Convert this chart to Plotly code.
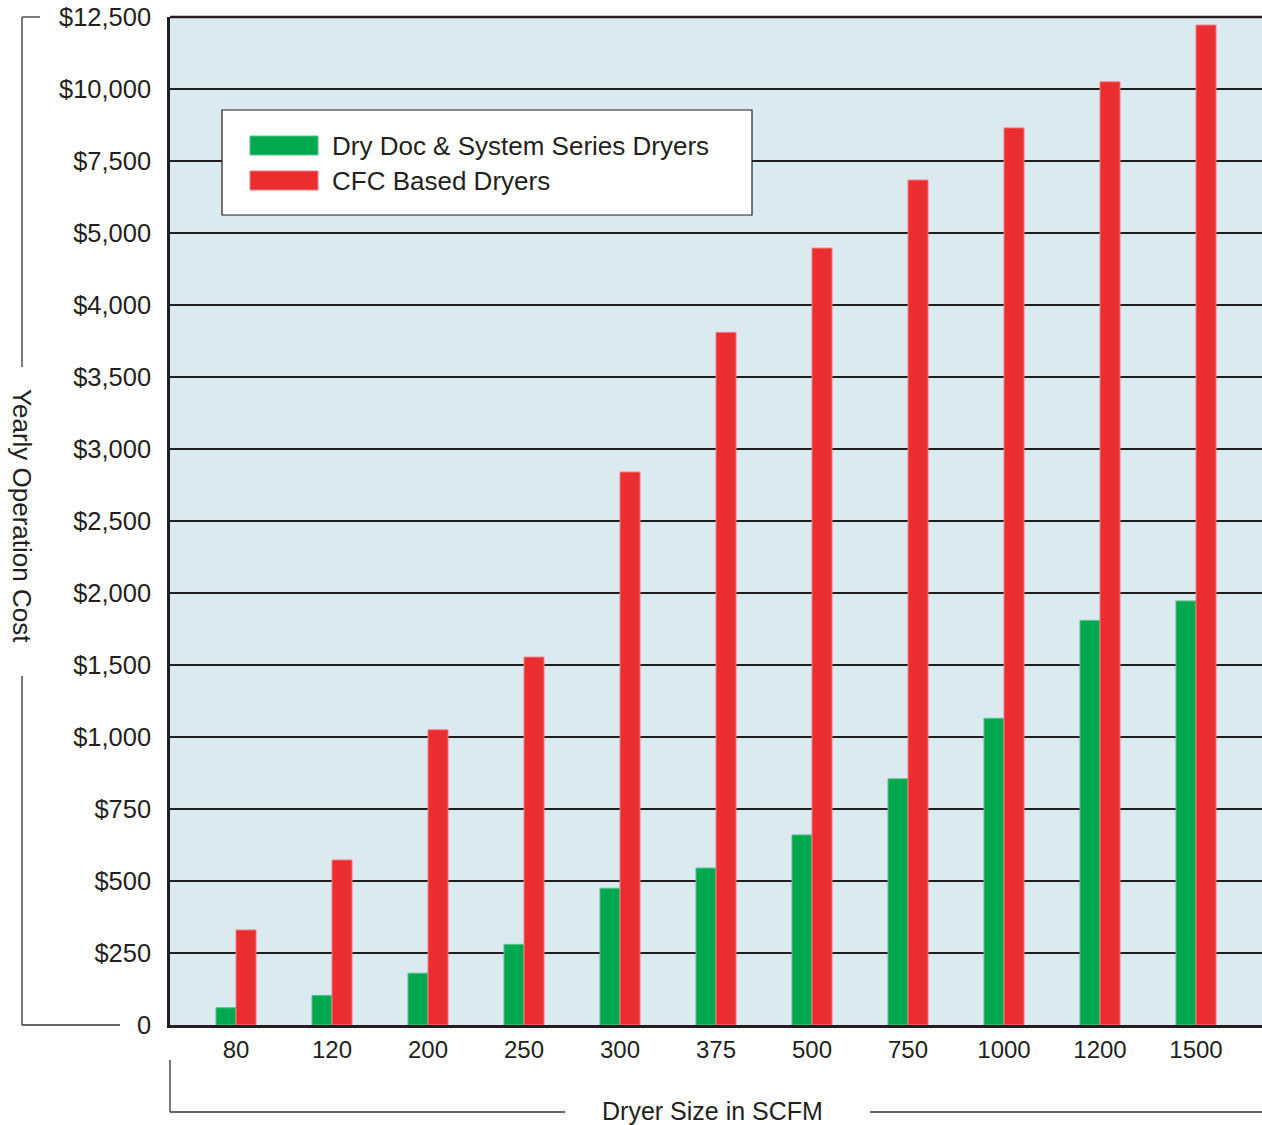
import numpy as np
import plotly.graph_objects as go

categories = ["80", "120", "200", "250", "300", "375", "500", "750", "1000", "1200", "1500"]
dry_doc = [60, 103, 180, 280, 475, 545, 660, 855, 1130, 1810, 1945]
cfc = [330, 573, 1050, 1555, 2840, 3810, 4790, 6840, 8650, 10250, 12220]

tick_values = [0, 250, 500, 750, 1000, 1500, 2000, 2500, 3000, 3500, 4000, 5000, 7500, 10000, 12500]
tick_labels = ["0", "$250", "$500", "$750", "$1,000", "$1,500", "$2,000", "$2,500", "$3,000",
               "$3,500", "$4,000", "$5,000", "$7,500", "$10,000", "$12,500"]
tick_pos = list(range(len(tick_values)))


def to_pos(vals):
    return np.interp(vals, tick_values, tick_pos)


W, H = 1262, 1125
L, R, T, B = 170, 1262, 17, 1025
FONT = "Liberation Sans, Arial, sans-serif"
INK = "#231f20"
GREEN = "#00a94f"
RED = "#ec2d30"


def px_x(px):
    return (px - L) / (R - L)


def px_y(py):
    return (B - py) / (B - T)


fig = go.Figure()
fig.add_trace(go.Bar(x=categories, y=to_pos(dry_doc), name="Dry Doc & System Series Dryers",
                     marker=dict(color=GREEN, line=dict(color="#5cc48a", width=1)),
                     customdata=dry_doc, hovertemplate="%{x}: $%{customdata}<extra></extra>"))
fig.add_trace(go.Bar(x=categories, y=to_pos(cfc), name="CFC Based Dryers",
                     marker=dict(color=RED, line=dict(color="#f07f82", width=1)),
                     customdata=cfc, hovertemplate="%{x}: $%{customdata}<extra></extra>"))

shapes = []
line_style = dict(color="#333333", width=1.3)
for (x0, y0, x1, y1) in [(22, 17, 22, 367), (22, 676, 22, 1025), (22, 17, 40, 17), (22, 1025, 120, 1025),
                         (170, 1060, 170, 1112), (170, 1112, 565, 1112), (870, 1112, 1262, 1112)]:
    shapes.append(dict(type="line", xref="paper", yref="paper",
                       x0=px_x(x0), y0=px_y(y0), x1=px_x(x1), y1=px_y(y1), line=line_style))
# top frame line
shapes.append(dict(type="line", xref="paper", yref="paper", x0=0, x1=1, y0=1, y1=1,
                   line=dict(color=INK, width=2.5)))
shapes.append(dict(type="rect", xref="paper", yref="paper", x0=px_x(222), x1=px_x(752),
                   y0=px_y(110), y1=px_y(215), fillcolor="white", line=dict(color=INK, width=1.2), layer="above"))
shapes.append(dict(type="rect", xref="paper", yref="paper", x0=px_x(250), x1=px_x(318),
                   y0=px_y(136), y1=px_y(155), fillcolor=GREEN, line=dict(color="#5cc48a", width=1), layer="above"))
shapes.append(dict(type="rect", xref="paper", yref="paper", x0=px_x(250), x1=px_x(318),
                   y0=px_y(171), y1=px_y(190), fillcolor=RED, line=dict(color="#f07f82", width=1), layer="above"))

annotations = [
    dict(text="Dry Doc & System Series Dryers", xref="paper", yref="paper", x=px_x(330), y=px_y(146),
         xanchor="left", yanchor="middle", showarrow=False, font=dict(size=26, color=INK, family=FONT)),
    dict(text="CFC Based Dryers", xref="paper", yref="paper", x=px_x(330), y=px_y(181),
         xanchor="left", yanchor="middle", showarrow=False, font=dict(size=26, color=INK, family=FONT)),
    dict(text="Yearly Operation Cost", xref="paper", yref="paper", x=px_x(22), y=px_y(516),
         xanchor="center", yanchor="middle", textangle=90, showarrow=False,
         font=dict(size=26, color=INK, family=FONT)),
    dict(text="Dryer Size in SCFM", xref="paper", yref="paper", x=px_x(712), y=px_y(1111),
         xanchor="center", yanchor="middle", showarrow=False, borderpad=0,
         font=dict(size=25, color=INK, family=FONT)),
]

fig.update_layout(
    width=W, height=H,
    margin=dict(l=L, r=W - R, t=T, b=H - B),
    paper_bgcolor="white", plot_bgcolor="#dbe9f1",
    barmode="group", bargap=0.583, bargroupgap=0,
    showlegend=False,
    font=dict(family=FONT, size=24, color=INK),
    shapes=shapes, annotations=annotations,
    xaxis=dict(type="category", range=[-0.6875, 10.6875], showgrid=False,
               showline=True, linecolor=INK, linewidth=3, ticks="", ticklabelstandoff=1,
               tickfont=dict(size=24, color=INK, family=FONT), fixedrange=True),
    yaxis=dict(range=[0, 14], tickvals=tick_pos, ticktext=tick_labels,
               showgrid=True, gridcolor=INK, gridwidth=2.2, zeroline=False,
               showline=True, linecolor=INK, linewidth=2.5, ticks="", ticklabelstandoff=11,
               tickfont=dict(size=25.5, color=INK, family=FONT), fixedrange=True),
)

fig.write_html("out.html", config={"displayModeBar": False},
               post_script="document.body.style.margin='0';document.body.style.overflow='hidden';")
